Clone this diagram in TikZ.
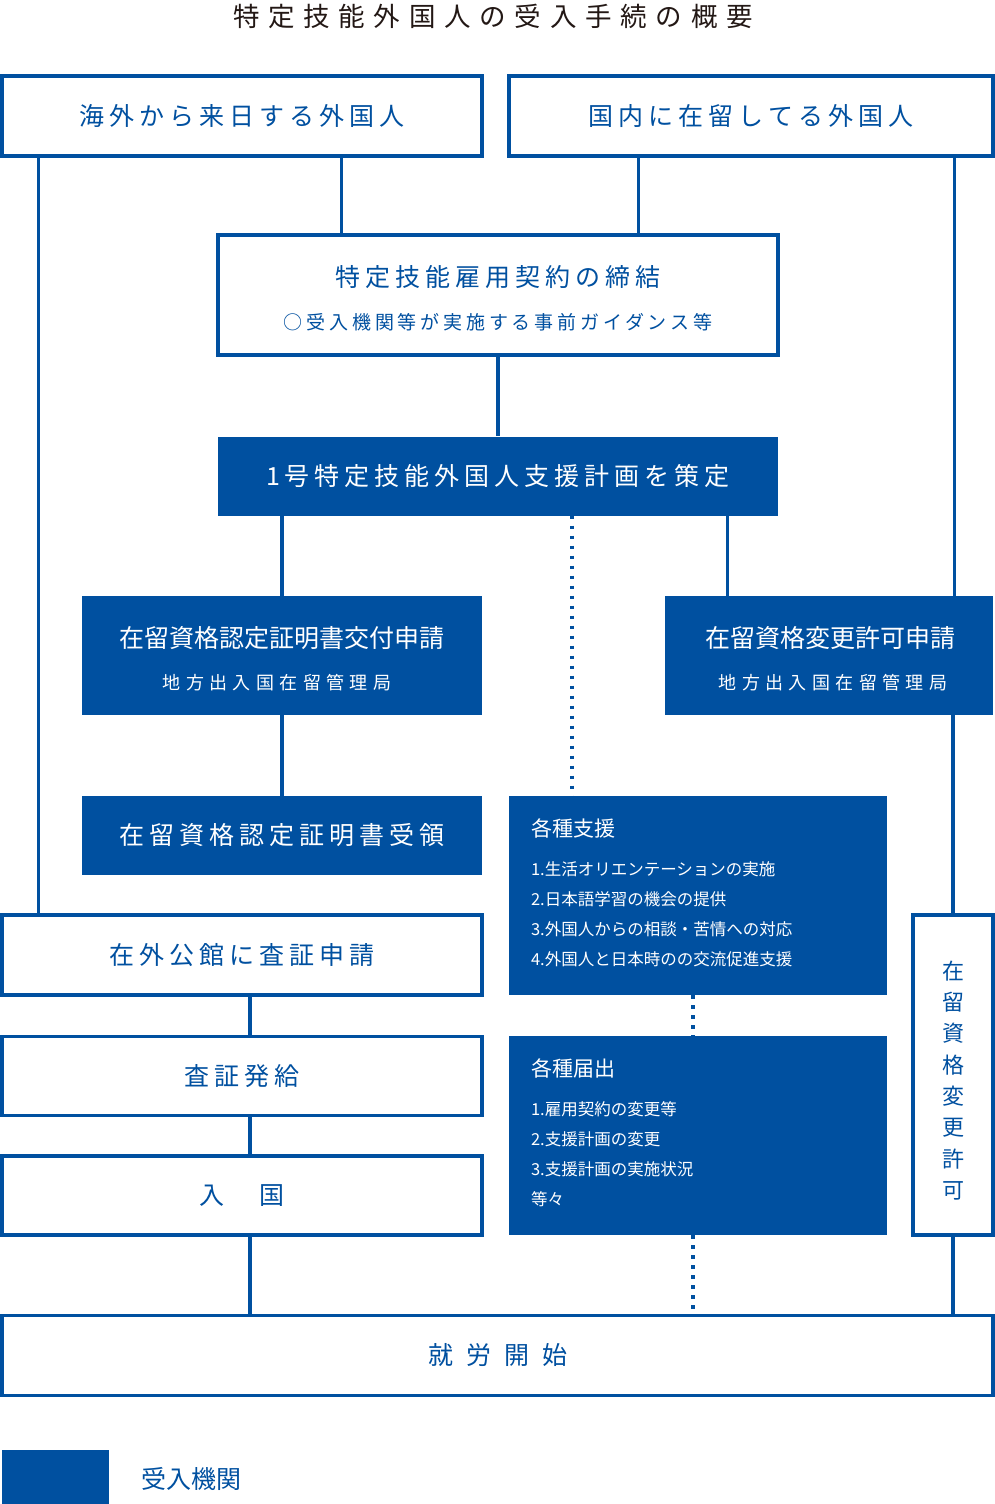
\documentclass[tikz,border=0pt]{standalone}
\usepackage{fontspec}
\setmainfont{Noto Sans CJK JP}
\newfontfamily\jp{Noto Sans CJK JP}
\newfontfamily\jpwide[LetterSpace=20]{Noto Sans CJK JP}
\newfontfamily\jpwider[LetterSpace=30]{Noto Sans CJK JP}
\newfontfamily\jptitle[LetterSpace=33]{Noto Sans CJK JP}
\newfontfamily\jpwidest[LetterSpace=52]{Noto Sans CJK JP}
\usepackage{xcolor}
\definecolor{cMain}{HTML}{0050A0}
\definecolor{cInk}{HTML}{231815}
\usetikzlibrary{positioning,calc}
\tikzset{
  box-line/.style={draw=cMain,line width=3.6pt,fill=white,text=cMain,
    inner sep=0pt,align=center},
  box-fill/.style={fill=cMain,text=white,inner sep=0pt,align=center},
  link/.style={draw=cMain,line width=3.3pt},
  link-dot/.style={draw=cMain,line width=3.5pt,dash pattern=on 3.5pt off 6.5pt},
  txt-head/.style={inner sep=0pt,font=\jpwide\fontsize{25}{30}\selectfont},
  txt-plain/.style={inner sep=0pt,font=\jp\fontsize{25}{30}\selectfont},
  txt-sub/.style={inner sep=0pt,font=\jpwider\fontsize{18}{22}\selectfont},
  txt-list-head/.style={inner sep=0pt,text=white,anchor=west,
    font=\jp\fontsize{21}{25}\selectfont},
  txt-item/.style={inner sep=0pt,text=white,anchor=west,
    font=\jp\fontsize{16.5}{20}\selectfont},
}

\begin{document}
\begin{tikzpicture}[x=1pt,y=-1pt]
  \useasboundingbox (0,0) rectangle (995,1504);

  % title
  \node[inner sep=0pt,text=cInk,font=\jptitle\fontsize{26.5}{30}\selectfont]
    (title) at (493,16) {特定技能外国人の受入手続の概要};

  % top row
  \node[box-line,txt-head,minimum width=480,minimum height=80] (A) at (242,116)
    {海外から来日する外国人};
  \node[box-line,txt-head,minimum width=484,minimum height=80] (B) at (751,116)
    {国内に在留してる外国人};

  % contract and plan
  \node[box-line,minimum width=560,minimum height=120] (C) at (498,295) {};
  \node[txt-head,text=cMain] (C1) at ($(C.center)+(0,-18)$) {特定技能雇用契約の締結};
  \node[inner sep=0pt,text=cMain,font=\jpwide\fontsize{19}{23}\selectfont]
    (C2) at ($(C.center)+(0,27)$) {○受入機関等が実施する事前ガイダンス等};
  \node[box-fill,txt-head,minimum width=560,minimum height=79] (D) at (498,476)
    {1号特定技能外国人支援計画を策定};

  % applications
  \node[box-fill,minimum width=400,minimum height=119] (E) at (282,655.5) {};
  \node[txt-plain,text=white] (E1) at ($(E.center)+(0,-17.5)$) {在留資格認定証明書交付申請};
  \node[txt-sub,text=white] (E2) at ($(E.center)+(-5,27.5)$) {地方出入国在留管理局};
  \node[box-fill,minimum width=328,minimum height=119] (F) at (829,655.5) {};
  \node[txt-plain,text=white] (F1) at ($(F.center)+(1,-17.5)$) {在留資格変更許可申請};
  \node[txt-sub,text=white] (F2) at ($(F.center)+(4,27.5)$) {地方出入国在留管理局};
  \node[box-fill,txt-head,minimum width=400,minimum height=79] (H) at (282,835.5)
    {在留資格認定証明書受領};

  % left column
  \node[box-line,txt-head,minimum width=480,minimum height=80] (I) at (242,955)
    {在外公館に査証申請};
  \node[box-line,txt-head,minimum width=480,minimum height=79] (J) at (242,1076)
    {査証発給};
  \node[box-line,txt-head,minimum width=480,minimum height=79] (K) at (242,1195.5)
    {入　国};
  \node[box-line,minimum width=991,minimum height=80,
    font=\jpwidest\fontsize{25}{30}\selectfont] (L) at (497.5,1355.5) {就労開始};

  % support and reports
  \node[box-fill,minimum width=378,minimum height=199] (G) at (698,895.5) {};
  \node[txt-list-head] (G0) at ($(G.north west)+(22,32.5)$) {各種支援};
  \foreach \t [count=\i] in {1.生活オリエンテーションの実施,2.日本語学習の機会の提供,
      3.外国人からの相談・苦情への対応,4.外国人と日本時のの交流促進支援}
    \node[txt-item] (G\i) at ($(G.north west)+(22,43.5+30*\i)$) {\t};
  \node[box-fill,minimum width=378,minimum height=199] (M) at (698,1135.5) {};
  \node[txt-list-head] (M0) at ($(M.north west)+(22,32.5)$) {各種届出};
  \foreach \t [count=\i] in {1.雇用契約の変更等,2.支援計画の変更,
      3.支援計画の実施状況,等々}
    \node[txt-item] (M\i) at ($(M.north west)+(22,43.5+30*\i)$) {\t};

  % status change permit
  \node[box-line,minimum width=80,minimum height=320] (N) at (953,1075) {};
  \node[inner sep=0pt,text=cMain,align=center,font=\jp\fontsize{22}{31.3}\selectfont]
    (N1) at ($(N.center)+(0,5.5)$) {在\\留\\資\\格\\変\\更\\許\\可};

  % legend
  \node[box-fill,minimum width=107,minimum height=54,anchor=north west] (key) at (2,1450) {};
  \node[txt-plain,text=cMain,right=32pt of key,yshift=-2pt] (keytxt) {受入機関};

  % connectors
  \draw[link] ([xshift=38pt]A.south west) -- ([xshift=38pt]A.south west |- I.north);
  \draw[link] ([xshift=125pt]C.north west) -- ([xshift=125pt]C.north west |- A.south);
  \draw[link] ([xshift=-141pt]C.north east) -- ([xshift=-141pt]C.north east |- B.south);
  \draw[link] ([xshift=-40pt]B.south east) -- ([xshift=-40pt]B.south east |- F.north);
  \draw[link] (C.south) -- (D.north);
  \draw[link] (E.north) -- (E.north |- D.south);
  \draw[link] ([xshift=-51pt]D.south east) -- ([xshift=-51pt]D.south east |- F.north);
  \draw[link-dot] ([xshift=63pt]G.north west |- D.south) -- ([xshift=63pt]G.north west);
  \draw[link] (E.south) -- (H.north);
  \draw[link] (N.north) -- (N.north |- F.south);
  \draw[link] ([xshift=8pt]I.south) -- ([xshift=8pt]J.north);
  \draw[link] ([xshift=8pt]J.south) -- ([xshift=8pt]K.north);
  \draw[link] ([xshift=8pt]K.south) -- ([xshift=8pt]K.south |- L.north);
  \draw[link-dot] ([xshift=184pt]G.south west) -- ([xshift=184pt]M.north west);
  \draw[link-dot] ([xshift=184pt]M.south west) -- ([xshift=184pt]M.south west |- L.north);
  \draw[link] (N.south) -- (N.south |- L.north);
\end{tikzpicture}
\end{document}
